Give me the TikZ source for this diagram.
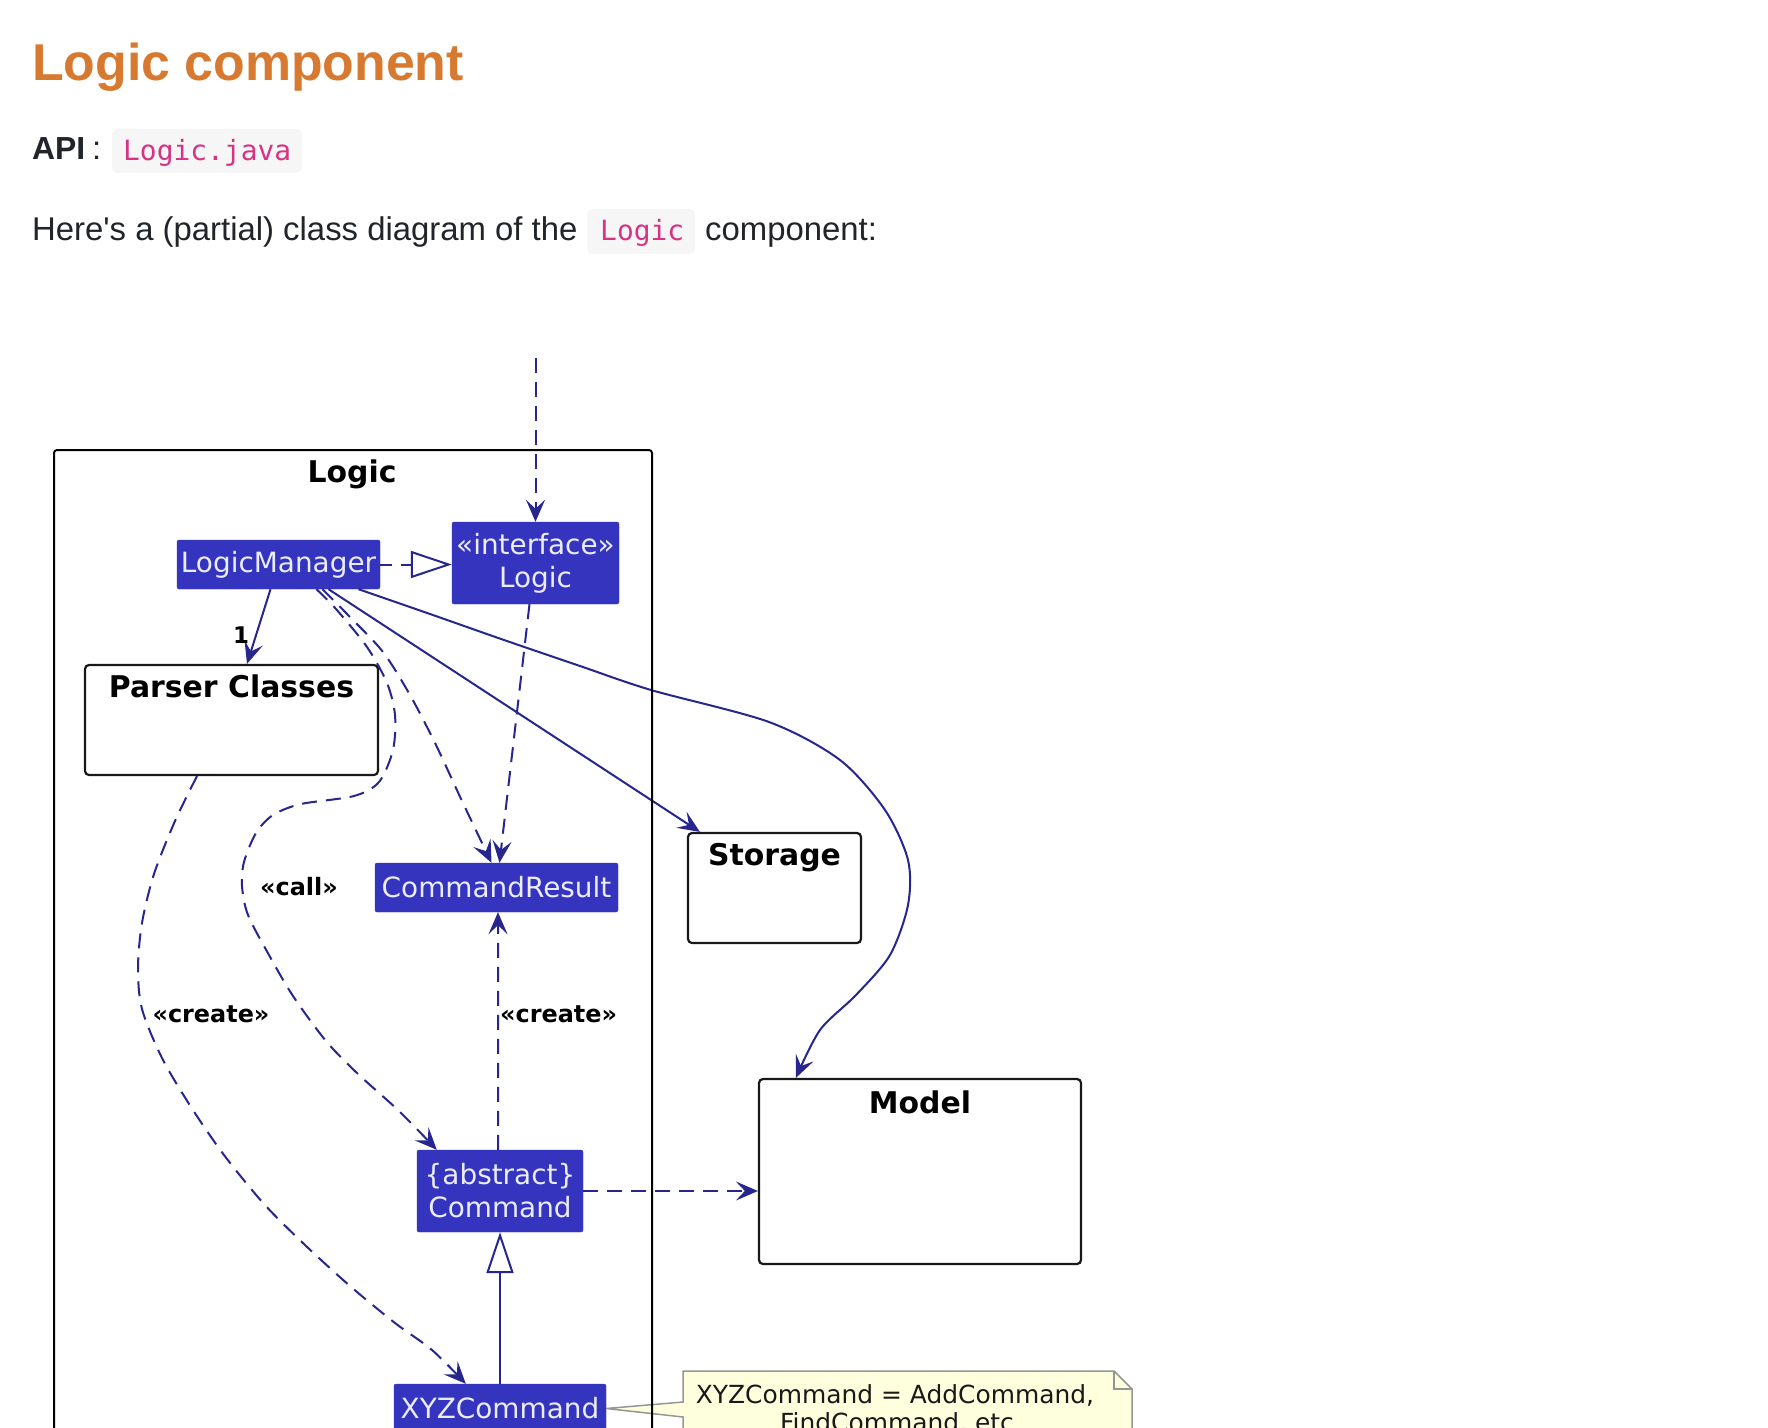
\documentclass[tikz,border=0pt]{standalone}
\usepackage{fontspec}
\setmainfont{Liberation Sans}
\newfontfamily\pagefont{Liberation Sans}
\newfontfamily\umlfont{DejaVu Sans}
\newfontfamily\codefont{DejaVu Sans Mono}
\usetikzlibrary{arrows.meta}
\definecolor{titleorange}{RGB}{216,121,48}
\definecolor{bodytext}{RGB}{33,37,41}
\definecolor{codepink}{RGB}{214,51,132}
\definecolor{codebg}{RGB}{246,246,246}
\definecolor{classfill}{RGB}{52,52,190}
\definecolor{classtext}{RGB}{236,236,255}
\definecolor{arrowblue}{RGB}{38,38,142}
\definecolor{notefill}{RGB}{254,255,221}
\definecolor{noteborder}{RGB}{150,150,150}
\definecolor{boxborder}{RGB}{24,24,24}
\tikzset{
  classbox/.style={fill=classfill, draw=classfill, rounded corners=2bp, text=classtext,
    font=\umlfont\fontsize{28}{33}\selectfont, align=center, inner sep=0pt},
  pkgbox/.style={draw=boxborder, line width=2.2bp, fill=white, rounded corners=4bp, inner sep=0pt},
  pkgtitle/.style={font=\umlfont\bfseries\fontsize{30}{36}\selectfont, text=black, inner sep=0pt, anchor=base},
  conn/.style={draw=arrowblue, line width=2bp},
  dashconn/.style={conn, dash pattern=on 15bp off 9bp},
  headtip/.style={-{Stealth[length=22bp, width=19bp, inset=9bp]}},
  gentip/.style={-{Triangle[open, length=41bp, width=27bp, fill=white]}},
  lbl/.style={font=\umlfont\bfseries\fontsize{24}{28}\selectfont, text=black, inner sep=0pt, anchor=base},
  multlabel/.style={font=\umlfont\bfseries\fontsize{23}{26}\selectfont, text=black, inner sep=0pt},
  codetext/.style={font=\codefont\fontsize{28}{34}\selectfont, text=codepink, inner sep=0pt, anchor=base west},
  bodyline/.style={font=\pagefont\fontsize{33}{38}\selectfont, text=bodytext, inner sep=0pt, anchor=base west},
  notestyle/.style={fill=notefill, draw=noteborder, line width=1.5bp, line join=miter},
  notetext/.style={font=\umlfont\fontsize{25}{28}\selectfont, text=black!90, inner sep=0pt, anchor=base},
}
\begin{document}
\begin{tikzpicture}[x=1bp,y=-1bp]
\useasboundingbox (0,0) rectangle (1768,1428);
\clip (0,0) rectangle (1768,1428);
\fill[white] (0,0) rectangle (1768,1428);

% page header
\node[anchor=base west, inner sep=0pt, text=titleorange, font=\pagefont\bfseries\fontsize{52}{60}\selectfont] (title) at (32,81) {Logic component};
\node[bodyline, font=\pagefont\bfseries\fontsize{32}{38}\selectfont] (api) at (32,160) {API};
\node[bodyline] (colon) at (92,160) {:};
\fill[codebg, rounded corners=6bp] (112,129) rectangle (302,173);
\node[codetext] (apicode) at (123,161) {Logic.java};
\node[bodyline] (intro) at (32,241) {Here's a (partial) class diagram of the};
\fill[codebg, rounded corners=6bp] (587,209) rectangle (695,254);
\node[codetext] (introcode) at (600,241) {Logic};
\node[bodyline] (introend) at (705,241) {component:};

% package boxes
\node[pkgbox, minimum width=293bp, minimum height=110bp] (PC) at (231.5,720) {};
\node[pkgtitle] (PCt) at (231.5,697) {Parser Classes};
\node[pkgbox, minimum width=173bp, minimum height=110bp] (ST) at (774.5,888) {};
\node[pkgtitle] (STt) at (774.5,865) {Storage};
\node[pkgbox, minimum width=322bp, minimum height=185bp] (MD) at (920,1171.5) {};
\node[pkgtitle] (MDt) at (920,1113) {Model};

% classes
\node[classbox, minimum width=203bp, minimum height=49bp] (LM) at (278.5,564.5) {LogicManager};
\node[classbox, minimum width=167bp, minimum height=82bp] (LI) at (535.5,563) {\raisebox{-3bp}{«interface»}\\\raisebox{-3bp}{Logic}};
\node[classbox, minimum width=243bp, minimum height=49bp] (CR) at (496.5,887.5) {CommandResult};
\node[classbox, minimum width=166bp, minimum height=82bp] (CMD) at (500,1191) {\{abstract\}\\Command};
\node[classbox, minimum width=212bp, minimum height=49bp] (XYZ) at (500,1408.5) {XYZCommand};

% connectors
\coordinate (topstart) at (535.5,358);
\draw[dashconn, headtip] (topstart) -- (LI.north);
\draw[dashconn, dash pattern=on 12bp off 9bp, gentip] (LM.east) -- (LM.east -| LI.west);
\draw[conn, headtip] ([xshift=-8bp]LM.south) -- ([xshift=15.5bp]PC.north);
\node[multlabel] (one) at (241,635) {1};

\draw[dashconn, headtip] plot[smooth, tension=0.5] coordinates {([xshift=44bp]LM.south) (350,617) (383,652) (410,695) (436,745) (462,801) ([xshift=-5bp]CR.north)};
\draw[dashconn, headtip] ([xshift=-6bp]LI.south) -- ([xshift=3bp]CR.north);
\draw[dashconn, headtip] plot[smooth, tension=0.5] coordinates {([xshift=38bp]LM.south) (336,609) (367,647) (387,683) (395,715) (393,750) (379,782) (354,796) (301,804) (273,815) (256,833) (244,862) (242,886) (248,915) (269,955) (293,996) (326,1041) (358,1074) (399,1111) ([xshift=20bp]CMD.north west)};
\draw[conn, headtip] ([xshift=50bp]LM.south) -- ([xshift=13bp]ST.north west);
\draw[conn, headtip] plot[smooth, tension=0.5] coordinates {([xshift=80bp]LM.south) (430,614) (504,640) (580,666) (651,690) (769,722) (840,760) (885,810) (908,860) (908,905) (890,955) (856,995) (820,1030) ([xshift=38bp]MD.north west)};
\draw[dashconn, headtip] plot[smooth, tension=0.5] coordinates {([xshift=-34.5bp]PC.south) (175,821) (154,874) (142,923) (138,968) (142,1009) (162,1058) (191,1107) (224,1155) (264,1204) (305,1245) (350,1286) (395,1323) (432,1350) ([xshift=72bp]XYZ.north west)};
\draw[dashconn, headtip] ([xshift=-2bp]CMD.north) -- ([xshift=1.5bp]CR.south);
\draw[dashconn, headtip] (CMD.east) -- (CMD.east -| MD.west);
\draw[conn, gentip] (XYZ.north) -- (CMD.south);

\node[lbl] (calllbl) at (299,895) {«call»};
\node[lbl] (createL) at (211,1022) {«create»};
\node[lbl, anchor=base west] (createR) at (500,1022) {«create»};

% note
\draw[notestyle] (683,1371) -- (1114,1371) -- (1132,1389) -- (1132,1450) -- (683,1450) -- (683,1417) -- (XYZ.east) -- (683,1402) -- cycle;
\draw[notestyle, fill=none] (1114,1371) -- (1114,1389) -- (1132,1389);
\node[notetext] (note1) at (895,1403) {XYZCommand = AddCommand,};
\node[notetext] (note2) at (897,1431) {FindCommand, etc};

% Logic frame
\draw[black, line width=2bp, rounded corners=3bp] (54,1445) -- (54,450) -- (652,450) -- (652,1445);
\node[pkgtitle] (logictitle) at (352,482) {Logic};
\end{tikzpicture}
\end{document}
